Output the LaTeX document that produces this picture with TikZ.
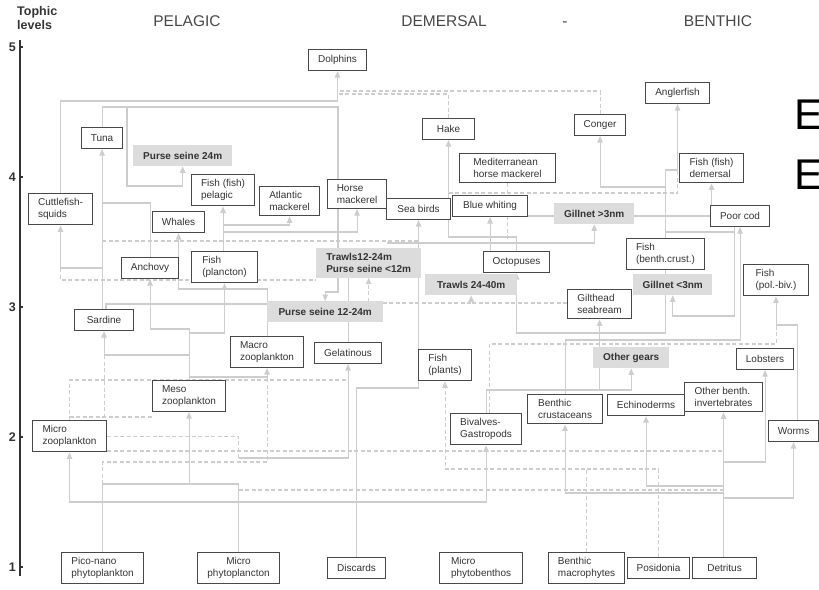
\documentclass[tikz,border=0pt]{standalone}
\usepackage{fontspec}
\setmainfont{Liberation Sans}
\usetikzlibrary{arrows.meta}
\pgfdeclarelayer{bg}
\pgfsetlayers{bg,main}

\definecolor{boxgray}{HTML}{484848}
\definecolor{txtgray}{HTML}{333333}
\definecolor{gearfill}{HTML}{DCDCDC}
\definecolor{feedgray}{HTML}{CDCDCD}
\newcommand{\nodefont}{\fontsize{10}{12}\selectfont}

\tikzset{
  sp/.style={draw=boxgray, line width=1.1pt, fill=white, anchor=north west,
    inner xsep=4pt, inner ysep=5pt, minimum height=21pt, align=left,
    font=\nodefont, text=txtgray},
  gear/.style={fill=gearfill, anchor=north west, inner xsep=4pt, inner ysep=5pt,
    minimum height=21pt, align=left, font=\nodefont\bfseries, text=txtgray},
  feedline/.style={draw=feedgray, line width=1.1pt},
  feed/.style={feedline, -{Triangle[width=5.5pt,length=6.5pt]}},
  dfeedline/.style={feedline, dash pattern=on 4pt off 2.5pt},
  dfeed/.style={feed, dash pattern=on 4pt off 2.5pt},
  head/.style={anchor=base, font=\fontsize{15.5}{18}\selectfont, text=txtgray!90}
}

\begin{document}
\begin{tikzpicture}[x=1pt, y=-1pt]
  \useasboundingbox (0,0) rectangle (819,589);

  % trophic level axis
  \node[anchor=north west, align=left, inner sep=0, text=txtgray,
    font=\fontsize{12.5}{14.5}\selectfont\bfseries] (title) at (17,6) {Tophic\\levels};
  \draw[txtgray, line width=1.5pt] (20,40) -- (20,576);
  \foreach \l [evaluate=\l as \y using 697-130*\l] in {1,...,5} {
    \draw[txtgray, line width=1.2pt] (20,\y) -- (23,\y);
    \node[anchor=east, inner sep=0, text=txtgray, font=\fontsize{12.5}{14}\selectfont\bfseries]
      (lvl\l) at (16,\y) {\l};
  }

  \node[head] (pelagic) at (187,26) {PELAGIC};
  \node[head] (demersal) at (444,26) {DEMERSAL};
  \node[head] (dash) at (565,26) {-};
  \node[head] (benthic) at (718,26) {BENTHIC};

  % level 4-5
  \node[sp, minimum width=58] (dolphins) at (308,49) {Dolphins};
  \node[sp, minimum width=41] (tuna) at (81,127) {Tuna};
  \node[gear, minimum width=99] (ps24) at (133,145) {Purse seine 24m};
  \node[sp, minimum width=52] (hake) at (422,118) {Hake};
  \node[sp, minimum width=51] (conger) at (574,114) {Conger};
  \node[sp, minimum width=64] (anglerfish) at (645,82) {Anglerfish};
  \node[sp, minimum width=96] (medhm) at (459,153) {Mediterranean\\horse mackerel};
  \node[sp, minimum width=64] (fishdem) at (679,153) {Fish (fish)\\demersal};

  % level 3-4
  \node[sp, minimum width=63] (fishpel) at (191,174) {Fish (fish)\\pelagic};
  \node[sp, minimum width=60] (atlmack) at (259,186) {Atlantic\\mackerel};
  \node[sp, minimum width=59] (horsemack) at (327,179) {Horse\\mackerel};
  \node[sp, minimum width=64] (seabirds) at (386,198) {Sea birds};
  \node[sp, minimum width=75] (bluewhiting) at (452,195) {Blue whiting};
  \node[sp, minimum width=64] (cuttle) at (28,193) {Cuttlefish-\\squids};
  \node[gear, minimum width=80] (gill3) at (554,203) {Gillnet >3nm};
  \node[sp, minimum width=59] (poorcod) at (710,205) {Poor cod};
  \node[sp, minimum width=52] (whales) at (152,211) {Whales};
  \node[sp, minimum width=57] (anchovy) at (121,257) {Anchovy};
  \node[sp, minimum width=66] (fishplancton) at (191,251) {Fish\\(plancton)};
  \node[gear, minimum width=105] (trawls1224) at (316,248) {Trawls12-24m\\Purse seine <12m};
  \node[sp, minimum width=66] (octopus) at (483,251) {Octopuses};
  \node[sp, minimum width=78] (fishbenth) at (626,238) {Fish\\(benth.crust.)};
  \node[gear, minimum width=92] (trawls2440) at (425,274) {Trawls 24-40m};
  \node[gear, minimum width=79] (gill3nm) at (633,274) {Gillnet <3nm};
  \node[sp, minimum width=65] (polbiv) at (743,264) {Fish\\(pol.-biv.)};

  % level 2-3
  \node[sp, minimum width=59] (sardine) at (74,309) {Sardine};
  \node[gear, minimum width=116] (ps1224) at (267,301) {Purse seine 12-24m};
  \node[sp, minimum width=64] (gilthead) at (567,289) {Gilthead\\seabream};
  \node[sp, minimum width=73] (macrozoo) at (230,336) {Macro\\zooplankton};
  \node[sp, minimum width=67] (gelatinous) at (314,342) {Gelatinous};
  \node[sp, minimum width=53] (fishplants) at (418,349) {Fish\\(plants)};
  \node[gear, minimum width=76] (othgears) at (593,347) {Other gears};
  \node[sp, minimum width=57] (lobsters) at (736,348) {Lobsters};
  \node[sp, minimum width=73] (meso) at (152,380) {Meso\\zooplankton};
  \node[sp, minimum width=78] (othinv) at (684,382) {Other benth.\\invertebrates};
  \node[sp, minimum width=75] (benthcrust) at (527,394) {Benthic\\crustaceans};
  \node[sp, minimum width=77] (echino) at (607,394) {Echinoderms};
  \node[sp, minimum width=71] (bivalves) at (450,413) {Bivalves-\\Gastropods};
  \node[sp, minimum width=74] (microzoo) at (32,420) {Micro\\zooplankton};
  \node[sp, minimum width=50] (worms) at (768,420) {Worms};

  % level 1
  \node[sp, minimum width=82] (pico) at (61,552) {Pico-nano\\phytoplankton};
  \node[sp, minimum width=82, align=center] (microphyto) at (197,552) {Micro\\phytoplancton};
  \node[sp, minimum width=58] (discards) at (327,557) {Discards};
  \node[sp, minimum width=83] (microbenthos) at (439,552) {Micro\\phytobenthos};
  \node[sp, minimum width=76] (macrophytes) at (548,552) {Benthic\\macrophytes};
  \node[sp, minimum width=62] (posidonia) at (627,557) {Posidonia};
  \node[sp, minimum width=64] (detritus) at (692,557) {Detritus};

  \node[anchor=base west, inner sep=0, font=\fontsize{43}{43}\selectfont] (e1) at (794,129) {E};
  \node[anchor=base west, inner sep=0, font=\fontsize{43}{43}\selectfont] (e2) at (794,189) {E};

  \begin{pgfonlayer}{bg}
    % top predators and large pelagics
    \draw[feed] (cuttle.north) |- (dolphins.south |- 0,101) -- (dolphins.south);
    \draw[dfeedline] (hake.north) |- (dolphins.south |- 0,94);
    \draw[dfeedline] (conger.north) |- (dolphins.south |- 0,91);
    \draw[feed] (tuna.north) |- (127,107) -- (127,186) -| (ps24.south);
    \draw[feed] (tuna.north) |- (338,107) -- (338,292) -| (ps1224.north);
    \draw[feed] (tuna.south |- sardine.north) -- (tuna.south);
    \draw[feed] (tuna.south |- 0,268) -| (cuttle.south);
    \draw[feedline] (anchovy.north) |- (tuna.south |- 0,203);
    \draw[dfeedline] (cuttle.south |- 0,268) -- (cuttle.south |- 0,280) -- (trawls1224.west |- 0,280);
    \draw[dfeedline] (tuna.south |- 0,241) -- (seabirds.south |- 0,241);
    \draw[feedline] (sardine.north -| 106,0) |- (ps1224.west |- 0,304);

    % small pelagics
    \draw[feed] (fishpel.south |- fishplancton.north) -- (fishpel.south);
    \draw[feed] (fishpel.south |- 0,225) -| (atlmack.south);
    \draw[feed] (fishpel.south |- 0,232) -| (horsemack.south);
    \draw[feed] (macrozoo.north) |- (whales.south |- 0,289) -- (whales.south);
    \draw[feed] (meso.north) |- (anchovy.south |- 0,329) -- (anchovy.south);
    \draw[feed] (meso.north |- 0,355) -| (sardine.south);
    \draw[feed] (meso.north |- 0,333) -| (fishplancton.south);
    \draw[feed] (meso.north |- 0,377) -| (macrozoo.south);

    % plankton
    \draw[feed] (pico.north) |- (microzoo.south |- 0,502) -- (microzoo.south);
    \draw[feed] (pico.north |- 0,502) -| (bivalves.south);
    \draw[feed] (pico.north) |- (meso.south |- 0,484) -- (meso.south);
    \draw[feedline] (microphyto.north) |- (meso.south |- 0,484);
    \draw[feed] (microphyto.north |- 0,458) -| (gelatinous.south);
    \draw[dfeedline] (microzoo.east) -| (microphyto.north |- 0,458);
    \draw[dfeedline] (microzoo.north) |- (gelatinous.south |- 0,380);
    \draw[dfeedline] (pico.north |- 0,484) |- (macrozoo.south |- 0,462) -- (macrozoo.south |- 0,377);
    \draw[dfeedline] (microzoo.north |- 0,417) -- (meso.west |- 0,417)
      (sardine.south |- 0,355) -- (sardine.south |- 0,417);
    \draw[dfeedline] (microzoo.east |- 0,451) -- (detritus.north |- 0,451);
    \draw[dfeedline] (microphyto.north |- 0,490) -- (detritus.north |- 0,490);

    % discards and gears
    \draw[feed] (discards.north) |- (seabirds.south |- 0,388) -- (seabirds.south);
    \draw[feedline] (gelatinous.north) -- (gelatinous.north |- trawls1224.south);
    \draw[dfeed] (gilthead.west |- 0,303) -| (trawls2440.south);
    \draw[dfeed] (trawls2440.south |- 0,303) -| (trawls1224.south);
    \draw[dfeedline] (medhm.south) -- (medhm.south |- 0,243);
    \draw[feed] (horsemack.east |- 0,243) -| (gill3.south);

    % demersal side
    \draw[feed] (octopus.north) |- (hake.south |- 0,237) -- (hake.south);
    \draw[feed] (octopus.north -| bluewhiting.south) -- (bluewhiting.south);
    \draw[feed] (fishbenth.north) |- (anglerfish.south |- 0,170) -- (anglerfish.south);
    \draw[feed] (fishbenth.north |- 0,187) -| (conger.south);
    \draw[dfeedline] (hake.south |- 0,193) -| (anglerfish.south |- 0,170);
    \draw[feed] (poorcod.north -| fishdem.south) -- (fishdem.south);
    \draw[feedline] (bluewhiting.east |- 0,216) -- (poorcod.west |- 0,216);
    \draw[feed] ([xshift=-6pt]poorcod.south) |- (gill3nm.south |- 0,316) -- (gill3nm.south);
    \draw[feedline] (fishbenth.north |- 0,232) -- ([xshift=-6pt]poorcod.south |- 0,232);
    \draw[feed] (benthcrust.north) |- (poorcod.south |- 0,340) -- (poorcod.south);
    \draw[feed] (fishbenth.south) |- (octopus.south |- 0,333) -- (octopus.south);
    \draw[feed] (bivalves.north) |- (gilthead.south |- 0,390) -- (gilthead.south);
    \draw[feed] (gilthead.south |- 0,390) -| (othgears.south);
    \draw[dfeedline] ([xshift=3pt]bivalves.north) |- (polbiv.south |- 0,344) -- (polbiv.south |- 0,325);
    \draw[feed] ([xshift=4pt]worms.north) |- (polbiv.south |- 0,325) -- (polbiv.south);

    % benthos
    \draw[feed] (othinv.south |- detritus.north) -- (othinv.south);
    \draw[feed] (othinv.south |- 0,486) -| (echino.south);
    \draw[feed] (othinv.south |- 0,493) -| (benthcrust.south);
    \draw[feed] (othinv.south |- 0,498) -| (worms.south);
    \draw[feed] (othinv.south |- 0,462) -| (lobsters.south);
    \draw[dfeed] (macrophytes.north) |- (fishplants.south |- 0,469) -- (fishplants.south);
    \draw[dfeedline] (posidonia.north) |- (macrophytes.north |- 0,469);
  \end{pgfonlayer}
\end{tikzpicture}
\end{document}
